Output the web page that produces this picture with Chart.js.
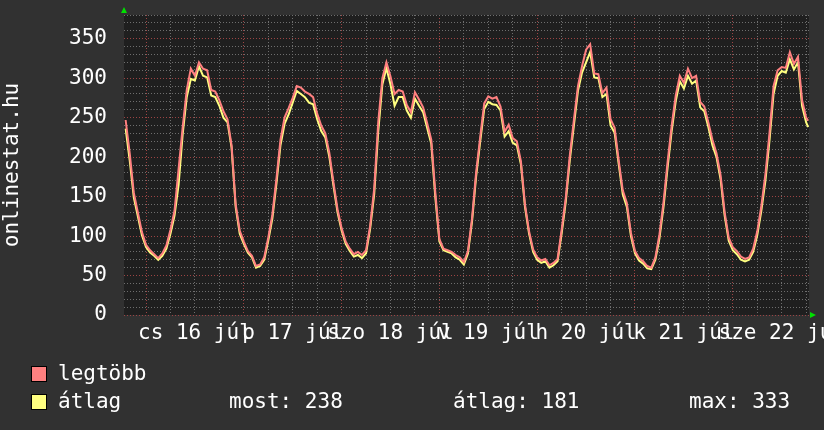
<!DOCTYPE html>
<html>
<head>
<meta charset="utf-8">
<script src="https://cdn.jsdelivr.net/npm/chart.js@4/dist/chart.umd.min.js"></script>
<style>
  body { margin: 0; background: #313131; }
  #wrap { position: relative; width: 824px; height: 430px; background: #313131; overflow: hidden; }
  #chart { position: absolute; left: 0; top: 0; }
  .leg { position: absolute; font-family: "DejaVu Sans Mono", monospace; font-size: 21px; color: #fff; line-height: 24px; white-space: pre; }
  .box { position: absolute; width: 14px; height: 14px; border: 1px solid #000; }
</style>
</head>
<body>
<div id="wrap">
  <canvas id="chart" width="824" height="430"></canvas>
  <div class="box" style="left:31px;top:366px;background:#ff8080"></div>
  <div class="leg" style="left:58px;top:361px">legtöbb</div>
  <div class="box" style="left:31px;top:394px;background:#ffff80"></div>
  <div class="leg" style="left:58px;top:389px">átlag</div>
  <div class="leg" style="left:229px;top:389px">most: 238</div>
  <div class="leg" style="left:453px;top:389px">átlag: 181</div>
  <div class="leg" style="left:689px;top:389px">max: 333</div>
</div>
<script>
// -------------------------
// Data (hours counted from csütörtök 16 júl 00:00, one sample per hour)
// -------------------------
const startHour = -5;
const endHour = 162.5;

const maxValues = [
  247, 205, 155, 130, 105,
  89, 82, 77, 72, 78, 88, 108, 132, 185, 238, 285, 312,
  303, 320, 312, 310, 285, 283, 272, 258, 248, 215, 140, 107,
  93, 81, 75, 62, 64, 73, 98, 127, 172, 222, 250, 262,
  275, 290, 288, 283, 280, 276, 255, 240, 230, 205, 168, 134,
  110, 93, 84, 77, 80, 76, 82, 113, 160, 245, 300, 320,
  302, 280, 285, 283, 266, 257, 282, 273, 263, 243, 222, 155,
  96, 84, 82, 80, 76, 73, 67, 81, 122, 180, 225, 268,
  277, 274, 276, 264, 232, 241, 224, 220, 195, 140, 106, 83,
  73, 69, 71, 63, 66, 71, 108, 148, 202, 247, 290, 315,
  336, 343, 306, 305, 281, 288, 248, 237, 196, 158, 142, 104,
  81, 72, 68, 62, 60, 73, 102, 143, 194, 240, 278, 303,
  294, 312, 300, 303, 270, 264, 244, 222, 205, 177, 130, 98,
  86, 81, 74, 71, 73, 84, 106, 138, 178, 230, 290, 310,
  314, 313, 333, 318, 327, 272, 250,
  246
];

const avgValues = [
  236, 196, 149, 125, 101,
  86, 79, 75, 70, 75, 84, 103, 126, 165, 229, 276, 299,
  297, 315, 303, 301, 278, 276, 265, 250, 244, 212, 137, 103,
  90, 79, 73, 60, 62, 70, 94, 122, 166, 215, 242, 254,
  269, 284, 280, 276, 269, 267, 248, 233, 225, 200, 164, 130,
  107, 90, 81, 74, 76, 72, 78, 109, 153, 233, 292, 313,
  292, 265, 276, 276, 259, 250, 274, 265, 257, 237, 217, 149,
  93, 82, 80, 78, 73, 70, 64, 78, 118, 175, 219, 261,
  270, 267, 266, 259, 226, 233, 218, 215, 191, 137, 103, 80,
  70, 66, 68, 60, 63, 68, 103, 143, 196, 240, 284, 307,
  320, 333, 301, 300, 276, 280, 240, 231, 191, 153, 137, 100,
  78, 69, 65, 59, 58, 70, 97, 137, 187, 233, 271, 296,
  287, 303, 293, 297, 263, 258, 238, 215, 200, 172, 126, 94,
  82, 77, 70, 68, 70, 80, 101, 132, 170, 221, 280, 303,
  309, 307, 324, 311, 320, 265, 244,
  238
];

const dayLabels = ["cs 16 júl", "p 17 júl", "szo 18 júl", "v 19 júl", "h 20 júl", "k 21 júl", "sze 22 júl"];
const dayLabelHours = [12, 36, 60, 84, 108, 132, 156];
const yLabelValues = [0, 50, 100, 150, 200, 250, 300, 350];

// x positions of the samples
const hours = maxValues.map((v, i) => i === maxValues.length - 1 ? endHour : startHour + i);

// -------------------------
// Grid ticks
// -------------------------
const xTicks = [];
for (let h = 0; h <= 162; h += 6) xTicks.push(h);
const yTicks = [];
for (let v = 0; v <= 380; v += 10) yTicks.push(v);

const FONT = { family: "DejaVu Sans Mono", size: 21 };
const MINOR = "#6e6e6e";
const MAJOR = "#9c4444";

// plot background + green axis arrows
const rrdLook = {
  id: "rrdLook",
  beforeDraw(chart) {
    const { ctx, chartArea: a } = chart;
    ctx.save();
    ctx.fillStyle = "#1f1f1f";
    ctx.fillRect(a.left, a.top, a.right - a.left, a.bottom - a.top);
    ctx.restore();
  },
  afterDraw(chart) {
    const { ctx, chartArea: a } = chart;
    ctx.save();
    ctx.fillStyle = "#00e000";
    ctx.beginPath();
    ctx.moveTo(a.left - 3, a.top - 2);
    ctx.lineTo(a.left + 3, a.top - 2);
    ctx.lineTo(a.left, a.top - 8);
    ctx.fill();
    ctx.beginPath();
    ctx.moveTo(a.right + 1, a.bottom - 3);
    ctx.lineTo(a.right + 1, a.bottom + 3);
    ctx.lineTo(a.right + 7, a.bottom);
    ctx.fill();
    ctx.restore();
  }
};

new Chart(document.getElementById("chart"), {
  type: "line",
  data: {
    labels: hours,
    datasets: [
      {
        label: "legtöbb",
        data: hours.map((h, i) => ({ x: h, y: maxValues[i] })),
        borderColor: "#ff8080",
        borderWidth: 2,
        pointRadius: 0,
        tension: 0
      },
      {
        label: "átlag",
        data: hours.map((h, i) => ({ x: h, y: avgValues[i] })),
        borderColor: "#ffff80",
        borderWidth: 2,
        pointRadius: 0,
        tension: 0
      }
    ]
  },
  options: {
    responsive: false,
    animation: false,
    devicePixelRatio: 1,
    layout: { padding: { top: 15, right: 15, left: 0, bottom: 0 } },
    plugins: { legend: { display: false }, tooltip: { enabled: false } },
    scales: {
      x: {
        type: "linear",
        min: -5.4,
        max: 162.7,
        afterBuildTicks: s => { s.ticks = xTicks.map(v => ({ value: v })); },
        afterFit: s => { s.height = 115; s.paddingLeft = 0; s.paddingRight = 0; },
        grid: {
          color: c => (c.tick && c.tick.value % 24 === 0) ? MAJOR : MINOR,
          drawTicks: false
        },
        border: { display: false, dash: [1, 2] },
        ticks: {
          autoSkip: false,
          maxRotation: 0,
          color: "#fff",
          font: FONT,
          padding: 6,
          callback: v => {
            const k = dayLabelHours.indexOf(v);
            return k >= 0 ? dayLabels[k] : "";
          }
        }
      },
      y: {
        min: 0,
        max: 380,
        afterBuildTicks: s => { s.ticks = yTicks.map(v => ({ value: v })); },
        afterFit: s => { s.width = 124; s.paddingTop = 0; s.paddingBottom = 0; },
        grid: {
          color: c => (c.tick && c.tick.value % 50 === 0) ? MAJOR : MINOR,
          drawTicks: false
        },
        border: { display: false, dash: [1, 2] },
        title: {
          display: true,
          text: "onlinestat.hu",
          color: "#fff",
          font: FONT,
          padding: 0
        },
        ticks: {
          autoSkip: false,
          color: "#fff",
          font: FONT,
          padding: 17,
          callback: v => yLabelValues.includes(v) ? String(v) : ""
        }
      }
    }
  },
  plugins: [rrdLook]
});
</script>
</body>
</html>
